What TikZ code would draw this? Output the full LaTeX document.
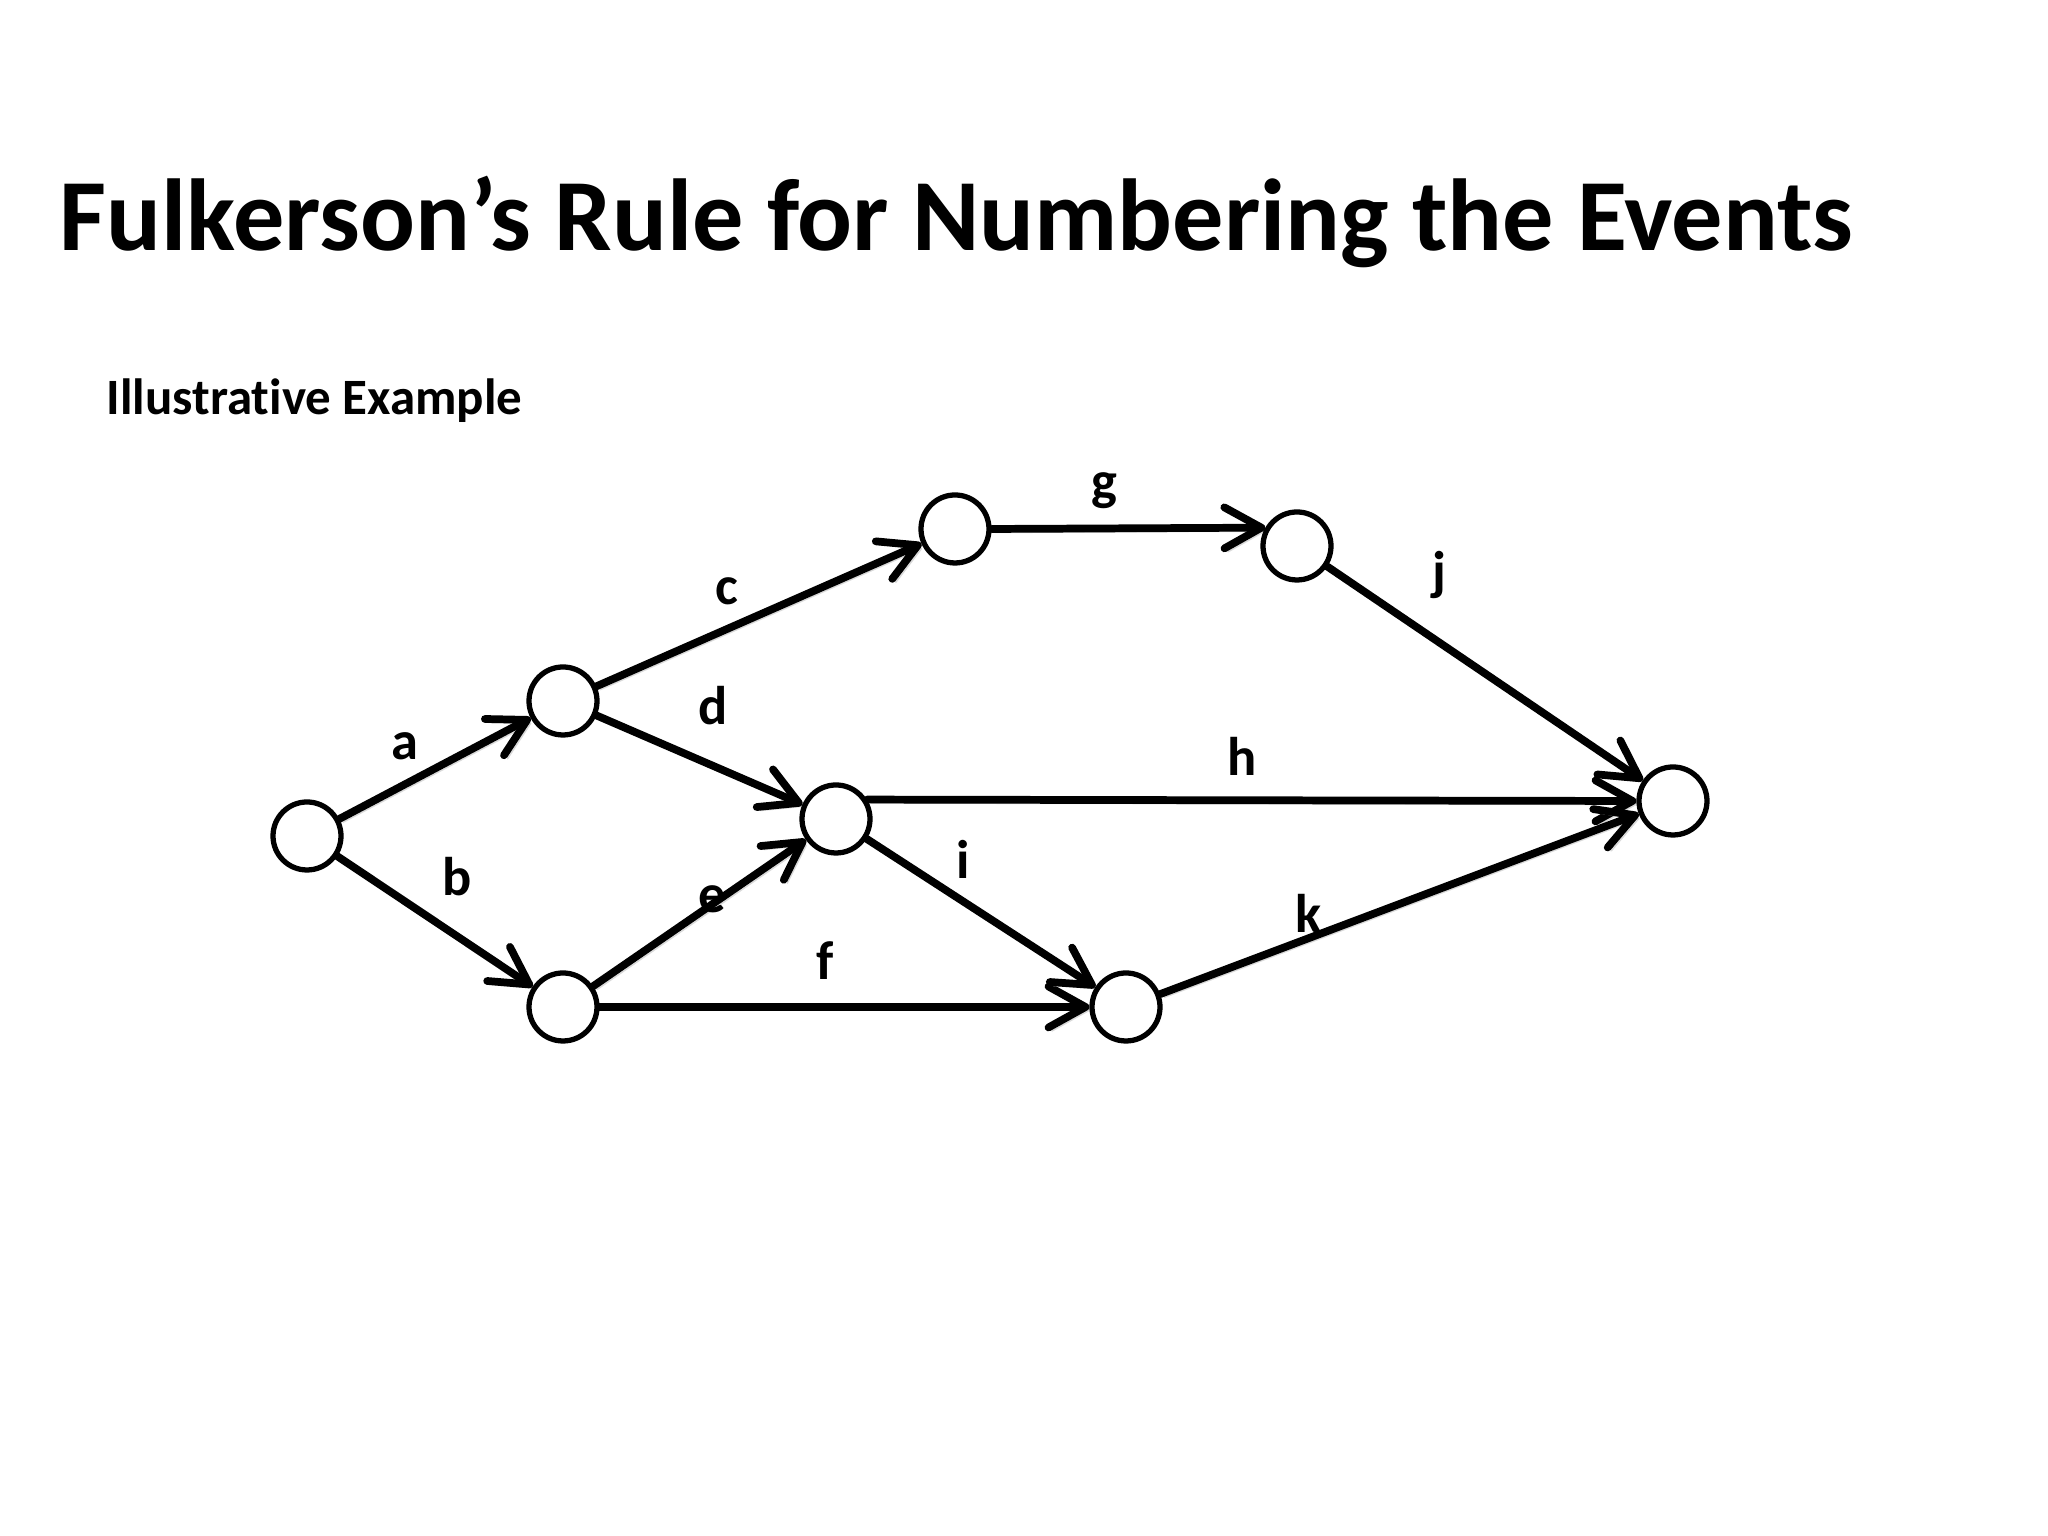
\documentclass[tikz,border=0pt]{standalone}
\usepackage{fontspec}
\setmainfont[Ligatures=NoCommon]{Carlito}
\usetikzlibrary{arrows.meta}
\usetikzlibrary{backgrounds}

\begin{document}
\begin{tikzpicture}[
  event/.style={draw, circle, line width=1.5pt, minimum size=6.8mm, inner sep=0pt, fill=white},
  act/.style={-{Straight Barb[length=3.7mm,width=4.1mm,round]}, line width=2.2pt, line cap=round,
    preaction={draw=black!15, transform canvas={shift={(0.35mm,-0.35mm)}}}},
  lbl/.style={font=\bfseries\fontsize{15.5}{18}\selectfont, anchor=base, inner sep=0pt}
]
\useasboundingbox (0,0) rectangle (20.48,15.36);
\node[anchor=base west, inner sep=0pt, font=\bfseries\fontsize{29.1}{35}\selectfont] (title) at (0.59,12.85) {Fulkerson’s Rule for Numbering the Events};
\node[anchor=base west, inner sep=0pt, font=\bfseries\fontsize{14.5}{17}\selectfont] (sub) at (1.06,11.21) {Illustrative Example};
% events
\node[event] (E1) at (3.07,7.00) {};
\node[event] (E2) at (5.63,8.35) {};
\node[event] (E3) at (5.63,5.29) {};
\node[event] (E4) at (8.36,7.17) {};
\node[event] (E5) at (9.55,10.07) {};
\node[event] (E6) at (12.97,9.90) {};
\node[event] (E7) at (11.26,5.29) {};
\node[event] (E8) at (16.73,7.35) {};
% activities
\begin{scope}[on background layer]
\draw[act] (E1) -- (E2);
\draw[act] (E1) -- (E3);
\draw[act] (E2) -- (E5);
\draw[act] (E2) -- (E4);
\draw[act] (E3) -- (E4);
\draw[act] (E3) -- (E7);
\draw[act] (E5.east) -- (E6.150);
\draw[act] (E4.32) -- (E8.west);
\draw[act] (E4) -- (E7);
\draw[act] (E6) -- (E8);
\draw[act] (E7) -- (E8);
\end{scope}
% activity names
\node[lbl] (la) at (4.05,7.76) {a};
\node[lbl] (lb) at (4.57,6.40) {b};
\node[lbl] (lc) at (7.27,9.31) {c};
\node[lbl] (ld) at (7.13,8.11) {d};
\node[lbl] (le) at (7.12,6.23) {e};
\node[lbl] (lf) at (8.25,5.56) {f};
\node[lbl] (lg) at (11.04,10.36) {g};
\node[lbl] (lh) at (12.42,7.60) {h};
\node[lbl] (li) at (9.63,6.57) {i};
\node[lbl] (lj) at (14.39,9.46) {j};
\node[lbl] (lk) at (13.09,6.03) {k};
\end{tikzpicture}
\end{document}
